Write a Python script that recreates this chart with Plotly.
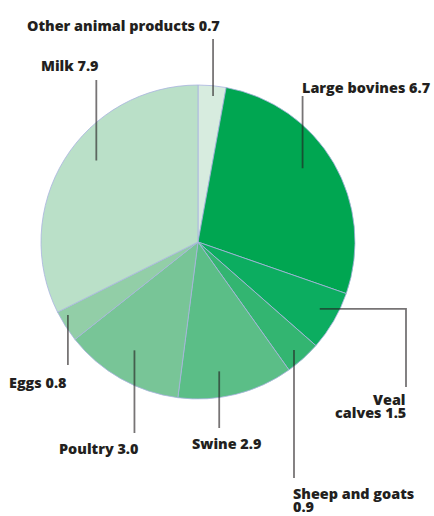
import math
import plotly.graph_objects as go

# Livestock output shares
categories = ["Other animal products", "Large bovines", "Veal calves", "Sheep and goats",
              "Swine", "Poultry", "Eggs", "Milk"]
values = [0.7, 6.7, 1.5, 0.9, 2.9, 3.0, 0.8, 7.9]
label_text = ["Other animal products 0.7", "Large bovines 6.7", "Veal<br>calves 1.5",
              "Sheep and goats<br>0.9", "Swine 2.9", "Poultry 3.0", "Eggs 0.8", "Milk 7.9"]

colors = ["#d7ecdf", "#00a651", "#0cad60", "#33b571", "#5bbe87", "#78c597", "#92cea7", "#bae0c8"]

W, H = 434, 516
CX, CY, R = 198, 242, 157  # pie centre and radius in pixels

fig = go.Figure()
fig.add_trace(go.Pie(
    labels=categories, values=values, sort=False, direction="clockwise", rotation=0,
    marker=dict(colors=colors, line=dict(color="#aab4e0", width=0.8)),
    textinfo="none", hoverinfo="label+value", showlegend=False,
    domain=dict(x=[(CX - R) / W, (CX + R) / W], y=[1 - (CY + R) / H, 1 - (CY - R) / H]),
))

# Leader-line style per slice: t = position across the slice's angle, f = radius fraction
# of the inner end; the line runs vertically to y (optionally via a horizontal run to x)
leader = {
    "Other animal products": dict(t=0.57, f=0.935, y=39),
    "Large bovines": dict(t=0.45, f=0.815, y=96),
    "Veal calves": dict(t=0.435, f=0.885, x=406, y=387),
    "Sheep and goats": dict(t=0.53, f=0.92, y=478),
    "Swine": dict(t=0.61, f=0.835, y=428),
    "Poultry": dict(t=0.52, f=0.80, y=433),
    "Eggs": dict(t=0.77, f=0.95, y=365),
    "Milk": dict(t=0.56, f=0.83, y=80),
}
# Label placement (pixel units): x, y of first line, anchor/alignment
label_pos = {
    "Other animal products": (25, 25, "left"),
    "Large bovines": (300, 87, "left"),
    "Veal calves": (408, 399, "right"),
    "Sheep and goats": (291, 493, "left"),
    "Swine": (190, 443, "left"),
    "Poultry": (57, 448, "left"),
    "Eggs": (7, 382, "left"),
    "Milk": (39, 65, "left"),
}
LINE_GAP = 13

total = sum(values)
cum = 0.0
line_col = "rgba(35,31,32,0.62)"
for cat, v, txt in zip(categories, values, label_text):
    st = leader[cat]
    ang = (cum + st["t"] * v) / total * 2 * math.pi
    cum += v
    x0 = CX + st["f"] * R * math.sin(ang)
    y0 = CY - st["f"] * R * math.cos(ang)
    if "x" in st:
        path = f"M{x0},{y0} L{st['x']},{y0} L{st['x']},{st['y']}"
    else:
        path = f"M{x0},{y0} L{x0},{st['y']}"
    fig.add_shape(type="path", path=path, xref="x", yref="y", layer="above",
                  line=dict(color=line_col, width=1.8))
    lx, ly, anchor = label_pos[cat]
    for i, part in enumerate(txt.split("<br>")):
        fig.add_annotation(x=lx, y=ly + i * LINE_GAP, xref="x", yref="y",
                           text=part, showarrow=False,
                           xanchor=anchor, yanchor="middle", align=anchor,
                           font=dict(family="Open Sans", size=14.4, weight=800, color="#231f20"))

fig.update_layout(
    width=W, height=H, margin=dict(l=0, r=0, t=0, b=0),
    paper_bgcolor="white", plot_bgcolor="rgba(0,0,0,0)",
    xaxis=dict(range=[0, W], visible=False, domain=[0, 1], fixedrange=True),
    yaxis=dict(range=[H, 0], visible=False, domain=[0, 1], fixedrange=True),
)

fig.write_html("out.html")
